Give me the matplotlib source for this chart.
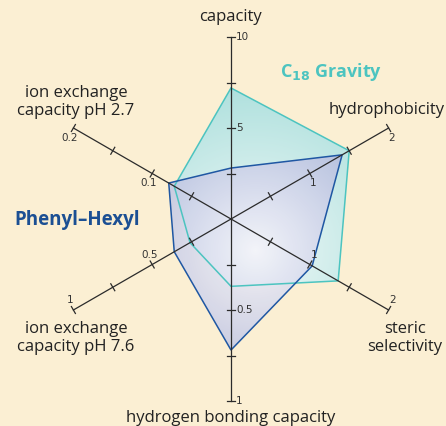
import numpy as np
import matplotlib.pyplot as plt
from matplotlib.patches import Polygon
from matplotlib.colors import to_rgb

# Dados do gráfico radar (seis eixos, cada um com sua própria escala)
eixos = [
    "capacity",
    "hydrophobicity",
    "steric\nselectivity",
    "hydrogen bonding capacity",
    "ion exchange\ncapacity pH 7.6",
    "ion exchange\ncapacity pH 2.7",
]
escala_max = [10, 2, 2, 1, 1, 0.2]
rotulo_meio = ["5", "1", "1", "0.5", "0.5", "0.1"]
rotulo_fim = ["10", "2", "2", "1", "1", "0.2"]

c18_gravity = [7.2, 1.5, 1.36, 0.37, 0.26, 0.072]
phenyl_hexyl = [2.8, 1.41, 1.03, 0.72, 0.36, 0.079]

# Geometria (em pixels da figura)
W, H = 446, 426
cx, cy, R = 231, 219, 182
angulos = np.deg2rad([90, 30, -30, -90, -150, 150])

fundo = "#fbefd3"
cor_teal = "#4cc4c0"
cor_azul = "#1f57a3"

fig = plt.figure(figsize=(W / 100, H / 100), dpi=100, facecolor=fundo)
ax = fig.add_axes([0, 0, 1, 1])
ax.set_xlim(0, W)
ax.set_ylim(H, 0)
ax.axis("off")
ax.set_facecolor(fundo)


def ponto(ang, frac):
    return cx + frac * R * np.cos(ang), cy - frac * R * np.sin(ang)


def gradiente(cor_centro, cor_borda, gx=255, gy=250, raio=175):
    yy, xx = np.mgrid[0:H, 0:W]
    t = np.clip(np.hypot(xx - gx, yy - gy) / raio, 0, 1)[..., None]
    c0 = np.array(to_rgb(cor_centro))
    c1 = np.array(to_rgb(cor_borda))
    return c0 * (1 - t) + c1 * t


def desenha_serie(valores, cor_linha, cor_centro, cor_borda, alpha):
    pts = [ponto(a, v / m) for a, v, m in zip(angulos, valores, escala_max)]
    poly = Polygon(pts, closed=True, facecolor="none", edgecolor="none")
    ax.add_patch(poly)
    img = ax.imshow(
        gradiente(cor_centro, cor_borda),
        extent=[0, W, H, 0],
        alpha=alpha,
        zorder=1,
    )
    img.set_clip_path(poly)
    ax.add_patch(
        Polygon(pts, closed=True, facecolor="none", edgecolor=cor_linha,
                linewidth=1.1, zorder=3)
    )


desenha_serie(c18_gravity, cor_teal, "#f1f9f8", "#abdfdc", 1.0)
desenha_serie(phenyl_hexyl, cor_azul, "#f4f4fa", "#a2aad5", 0.88)

# Eixos com marcas perpendiculares
deslocamentos = [(5, 0), (3, 10), (4, -10), (5, 0), (-3, -10), (-4, 10)]
for i, ang in enumerate(angulos):
    x1, y1 = ponto(ang, 1.0)
    ax.plot([cx, x1], [cy, y1], color="#2b2b2b", linewidth=0.9, zorder=4)
    px, py = -np.sin(ang), -np.cos(ang)
    for f in [0.25, 0.5, 0.75, 1.0]:
        mx, my = ponto(ang, f)
        ax.plot([mx - 4 * px, mx + 4 * px], [my - 4 * py, my + 4 * py],
                color="#2b2b2b", linewidth=0.9, zorder=4)
    dx, dy = deslocamentos[i]
    ha = "left" if dx == 5 else "center"
    for f, txt in [(0.5, rotulo_meio[i]), (1.0, rotulo_fim[i])]:
        mx, my = ponto(ang, f)
        ax.text(mx + dx, my + dy, txt, fontsize=7.5, color="#333333",
                ha=ha, va="center", zorder=5)

# Nomes dos eixos
fonte = "Open Sans"
tam = 12
ax.text(231, 17, eixos[0], fontsize=tam, family=fonte, ha="center", va="center", color="#222222")
ax.text(445, 110, eixos[1], fontsize=tam, family=fonte, ha="right", va="center", color="#222222")
ax.text(405, 338, eixos[2], fontsize=tam, family=fonte, ha="center", va="center",
        color="#222222", linespacing=1.15)
ax.text(231, 418, eixos[3], fontsize=tam, family=fonte, ha="center", va="center", color="#222222")
ax.text(76, 338, eixos[4], fontsize=tam, family=fonte, ha="center", va="center",
        color="#222222", linespacing=1.15)
ax.text(76, 102, eixos[5], fontsize=tam, family=fonte, ha="center", va="center",
        color="#222222", linespacing=1.15)

# Legendas das séries
ax.text(280, 72, r"C$_{\mathbf{18}}$ Gravity", fontsize=13, fontweight="bold",
        family=fonte, color=cor_teal, ha="left", va="center")
ax.text(14, 220, "Phenyl\u2013Hexyl", fontsize=13.5, fontweight="bold",
        family=fonte, color="#1b4f93", ha="left", va="center")

fig.savefig("out.png", dpi=100, facecolor=fundo)
